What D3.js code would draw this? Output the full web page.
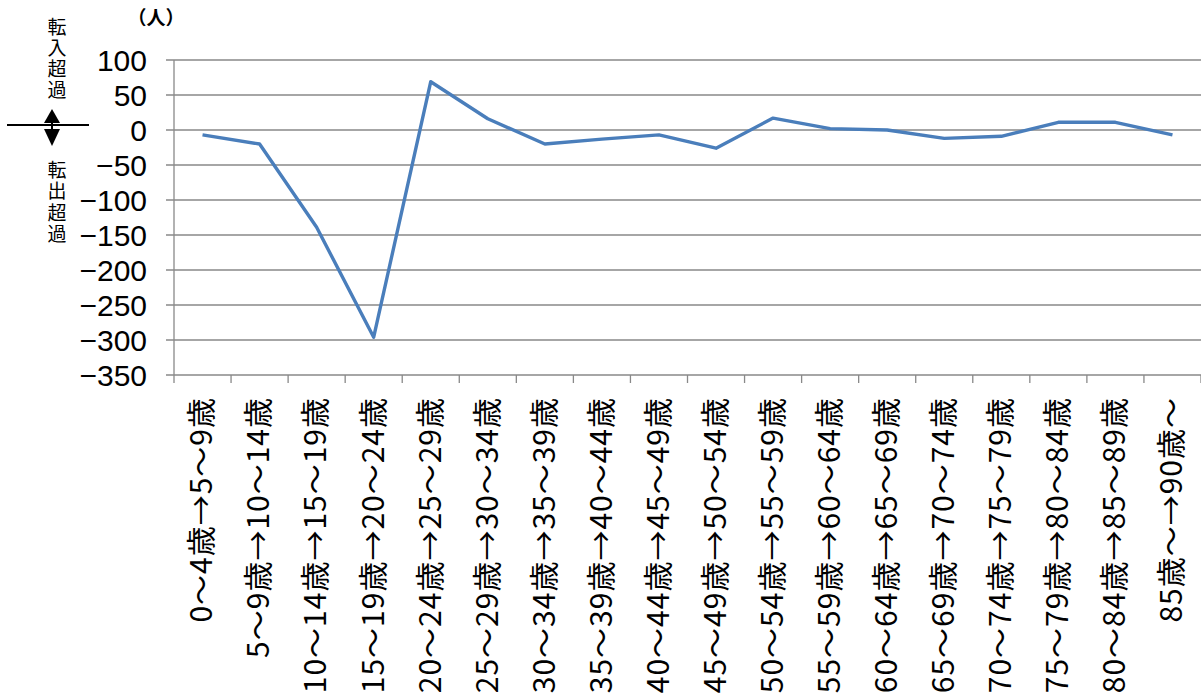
<!DOCTYPE html>
<html><head><meta charset="utf-8">
<script src="https://cdn.jsdelivr.net/npm/d3@7"></script>
<style>
html,body{margin:0;padding:0;background:#fff;}
svg{display:block;}
text{font-family:"Noto Sans CJK JP","Noto Sans",sans-serif;fill:#000;}
</style></head>
<body>
<svg id="c" width="1201" height="698"></svg>
<script>
const categories = ["0〜4歳→5〜9歳","5〜9歳→10〜14歳","10〜14歳→15〜19歳","15〜19歳→20〜24歳","20〜24歳→25〜29歳","25〜29歳→30〜34歳","30〜34歳→35〜39歳","35〜39歳→40〜44歳","40〜44歳→45〜49歳","45〜49歳→50〜54歳","50〜54歳→55〜59歳","55〜59歳→60〜64歳","60〜64歳→65〜69歳","65〜69歳→70〜74歳","70〜74歳→75〜79歳","75〜79歳→80〜84歳","80〜84歳→85〜89歳","85歳〜→90歳〜"];
const values = [-7,-20,-139,-296,69,16,-20,-13,-7,-26,17,2,0,-12,-9,11,11,-7];
const yTicks = [100,50,0,-50,-100,-150,-200,-250,-300,-350];
const unitLabel = "（人）";
const inLabel = "転入超過";
const outLabel = "転出超過";

const svg = d3.select("#c");
const L = 174, R = 1201, T = 60, B = 375;
const x = d3.scaleBand().domain(categories).range([L, R]);
const y = d3.scaleLinear().domain([-350, 100]).range([B, T]);
const grid = "#898989";

// gridlines
svg.append("g").selectAll("line").data(yTicks).join("line")
  .attr("x1", L - 8).attr("x2", R).attr("y1", d => y(d)).attr("y2", d => y(d))
  .attr("stroke", grid).attr("stroke-width", 1.3);
// y axis line
svg.append("line").attr("x1", L).attr("x2", L).attr("y1", T).attr("y2", B + 8)
  .attr("stroke", grid).attr("stroke-width", 1.3);
// x ticks at band boundaries
const bounds = categories.map(c => x(c)).concat([R]).slice(1);
svg.append("g").selectAll("line").data(bounds).join("line")
  .attr("x1", d => d).attr("x2", d => d).attr("y1", B).attr("y2", B + 8)
  .attr("stroke", grid).attr("stroke-width", 1.3);

// y tick labels
svg.append("g").selectAll("text").data(yTicks).join("text")
  .attr("x", 147).attr("y", d => y(d)).attr("dy", "0.36em")
  .attr("text-anchor", "end").style("font-size", "30px")
  .style("font-family", "'Liberation Sans', Arial, sans-serif")
  .text(d => d < 0 ? "−" + Math.abs(d) : String(d));

// x labels rotated
svg.append("g").selectAll("text").data(categories).join("text")
  .attr("transform", d => `translate(${x(d) + x.bandwidth()/2 - 1},397) rotate(-90)`)
  .attr("dy", "0.36em").attr("text-anchor", "end").style("font-size", "30px")
  .style("letter-spacing", "1px")
  .text(d => d);

// line
const line = d3.line().x((d, i) => x(categories[i]) + x.bandwidth()/2).y(d => y(d));
svg.append("path").datum(values).attr("d", line)
  .attr("fill", "none").attr("stroke", "#4a7ebb").attr("stroke-width", 3.4)
  .attr("stroke-linejoin", "round");

// unit label
svg.append("text").attr("x", 156).attr("y", 18).attr("dy", "0.36em")
  .attr("text-anchor", "middle").style("font-size", "19px").style("font-weight", "bold").text(unitLabel);

// side labels (vertical writing)
svg.append("text").attr("x", 57).attr("y", 17)
  .style("writing-mode", "vertical-rl").style("font-size", "19px").style("letter-spacing", "2px")
  .text(inLabel);
svg.append("text").attr("x", 57).attr("y", 160)
  .style("writing-mode", "vertical-rl").style("font-size", "19px").style("letter-spacing", "2.5px")
  .text(outLabel);

// arrow marker
const ay = y(0) - 5;
svg.append("line").attr("x1", 7).attr("x2", 89).attr("y1", ay).attr("y2", ay)
  .attr("stroke", "#000").attr("stroke-width", 2);
svg.append("line").attr("x1", 52).attr("x2", 52).attr("y1", ay - 8).attr("y2", ay + 8)
  .attr("stroke", "#000").attr("stroke-width", 2);
svg.append("path").attr("d", `M52,${ay-16} L44,${ay-2} L60,${ay-2} Z`).attr("fill", "#000");
svg.append("path").attr("d", `M44,${ay+4} L60,${ay+4} L52,${ay+21} Z`).attr("fill", "#000");
</script>
</body></html>
